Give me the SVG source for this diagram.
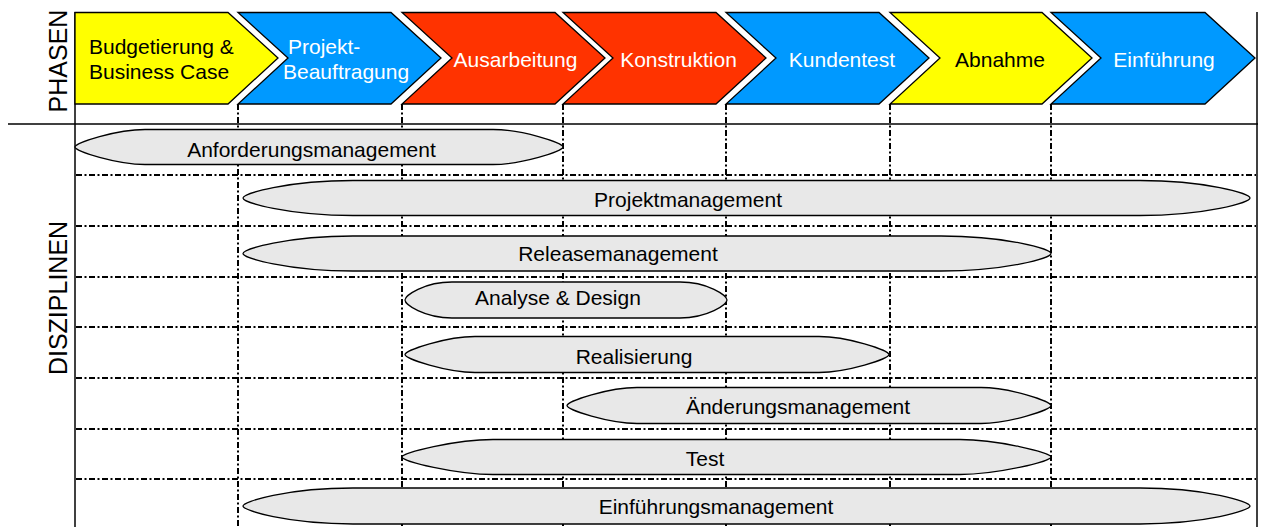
<svg xmlns="http://www.w3.org/2000/svg" width="1261" height="527" viewBox="0 0 1261 527">
<style>
.ph{stroke:#000;stroke-width:1.3;stroke-linejoin:miter}
.y{fill:#FFFF00}.b{fill:#0099FF}.r{fill:#FF3300}
.t{font-family:"Liberation Sans",Arial,sans-serif;font-size:21px}
.tw{fill:#fff}.tk{fill:#000}
.c{text-anchor:middle}
.lbl{font-family:"Liberation Sans",Arial,sans-serif;font-size:25px;text-anchor:middle;fill:#000}
.dd{stroke:#000;stroke-width:2;stroke-dasharray:6 2.5 2 2.5;fill:none}
.sl{stroke:#000;stroke-width:1.5;fill:none}
.el{fill:#E8E8E8;stroke:#000;stroke-width:1.3}
</style>
<rect width="1261" height="527" fill="#fff"/>
<text class="lbl" transform="translate(67,61) rotate(-90)">PHASEN</text>
<text class="lbl" transform="translate(67,298) rotate(-90)">DISZIPLINEN</text>
<g id="connectors">
<line class="sl" x1="8" y1="124" x2="1258" y2="124"/>
<line class="sl" x1="75" y1="12" x2="75" y2="527"/>
<line class="sl" x1="1257" y1="12" x2="1257" y2="527"/>
<line class="dd" x1="76" y1="175" x2="1256" y2="175"/>
<line class="dd" x1="76" y1="226" x2="1256" y2="226"/>
<line class="dd" x1="76" y1="277" x2="1256" y2="277"/>
<line class="dd" x1="76" y1="327" x2="1256" y2="327"/>
<line class="dd" x1="76" y1="378" x2="1256" y2="378"/>
<line class="dd" x1="76" y1="429" x2="1256" y2="429"/>
<line class="dd" x1="76" y1="479" x2="1256" y2="479"/>
<line class="dd" x1="238" y1="104" x2="238" y2="527"/>
<line class="dd" x1="402" y1="104" x2="402" y2="527"/>
<line class="dd" x1="563" y1="104" x2="563" y2="527"/>
<line class="dd" x1="726" y1="104" x2="726" y2="527"/>
<line class="dd" x1="890" y1="104" x2="890" y2="527"/>
<line class="dd" x1="1051" y1="104" x2="1051" y2="527"/>
</g>
<g id="phase1"><path class="ph y" d="M75,12.5 H228 L278,58 L228,104 H75 Z"/>
<text class="t tk" x="89" y="54">Budgetierung &amp;</text><text class="t tk" x="89" y="79">Business Case</text></g>
<g id="phase2"><path class="ph b" d="M238,12.5 H391 L441,58 L391,104 H238 L288,58 Z"/>
<text class="t tw" x="288" y="54">Projekt-</text><text class="t tw" x="283" y="79">Beauftragung</text></g>
<g id="phase3"><path class="ph r" d="M402,12.5 H555 L605,58 L555,104 H402 L452,58 Z"/>
<text class="t tw c" x="515.5" y="67">Ausarbeitung</text></g>
<g id="phase4"><path class="ph r" d="M563,12.5 H716 L766,58 L716,104 H563 L613,58 Z"/>
<text class="t tw c" x="678.5" y="67">Konstruktion</text></g>
<g id="phase5"><path class="ph b" d="M726,12.5 H879 L929,58 L879,104 H726 L776,58 Z"/>
<text class="t tw c" x="842" y="67">Kundentest</text></g>
<g id="phase6"><path class="ph y" d="M890,12.5 H1042 L1092,58 L1042,104 H890 L940,58 Z"/>
<text class="t tk c" x="1000" y="67">Abnahme</text></g>
<g id="phase7"><path class="ph b" d="M1051,12.5 H1205 L1255,58 L1205,104 H1051 L1101,58 Z"/>
<text class="t tw c" x="1164" y="67">Einführung</text></g>
<g id="d1"><path class="el" d="M145,129.5 H493 C521,129.5 563,142.6 563,147 C563,151.4 521,164.5 493,164.5 H145 C117,164.5 75,151.4 75,147 C75,142.6 117,129.5 145,129.5 Z"/>
<text class="t tk c" x="311.5" y="157">Anforderungsmanagement</text></g>
<g id="d2"><path class="el" d="M353,180.5 H1140 C1206,180.5 1250,193.6 1250,198 C1250,202.4 1206,215.5 1140,215.5 H353 C287,215.5 243,202.4 243,198 C243,193.6 287,180.5 353,180.5 Z"/>
<text class="t tk c" x="688" y="207">Projektmanagement</text></g>
<g id="d3"><path class="el" d="M353,236 H941 C1007,236 1051,249.1 1051,253.5 C1051,257.9 1007,271 941,271 H353 C287,271 243,257.9 243,253.5 C243,249.1 287,236 353,236 Z"/>
<text class="t tk c" x="618" y="261">Releasemanagement</text></g>
<g id="d4"><path class="el" d="M452,282 H680 C708,282 727,295.5 727,300 C727,304.5 708,318 680,318 H452 C424,318 405,304.5 405,300 C405,295.5 424,282 452,282 Z"/>
<text class="t tk c" x="558" y="305">Analyse &amp; Design</text></g>
<g id="d5"><path class="el" d="M475,336.5 H819 C847,336.5 889,350 889,354.5 C889,359 847,372.5 819,372.5 H475 C447,372.5 405,359 405,354.5 C405,350 447,336.5 475,336.5 Z"/>
<text class="t tk c" x="634" y="364">Realisierung</text></g>
<g id="d6"><path class="el" d="M637,387.5 H981 C1009,387.5 1051,401 1051,405.5 C1051,410 1009,423.5 981,423.5 H637 C609,423.5 567,410 567,405.5 C567,401 609,387.5 637,387.5 Z"/>
<text class="t tk c" x="798" y="414">Änderungsmanagement</text></g>
<g id="d7"><path class="el" d="M493,439.5 H960 C997,439.5 1051,452.6 1051,457 C1051,461.4 997,474.5 960,474.5 H493 C456,474.5 402,461.4 402,457 C402,452.6 456,439.5 493,439.5 Z"/>
<text class="t tk c" x="705" y="466">Test</text></g>
<g id="d8"><path class="el" d="M353,488 H1140 C1206,488 1250,501.5 1250,506 C1250,510.5 1206,524 1140,524 H353 C287,524 243,510.5 243,506 C243,501.5 287,488 353,488 Z"/>
<text class="t tk c" x="716" y="514">Einführungsmanagement</text></g>
</svg>
